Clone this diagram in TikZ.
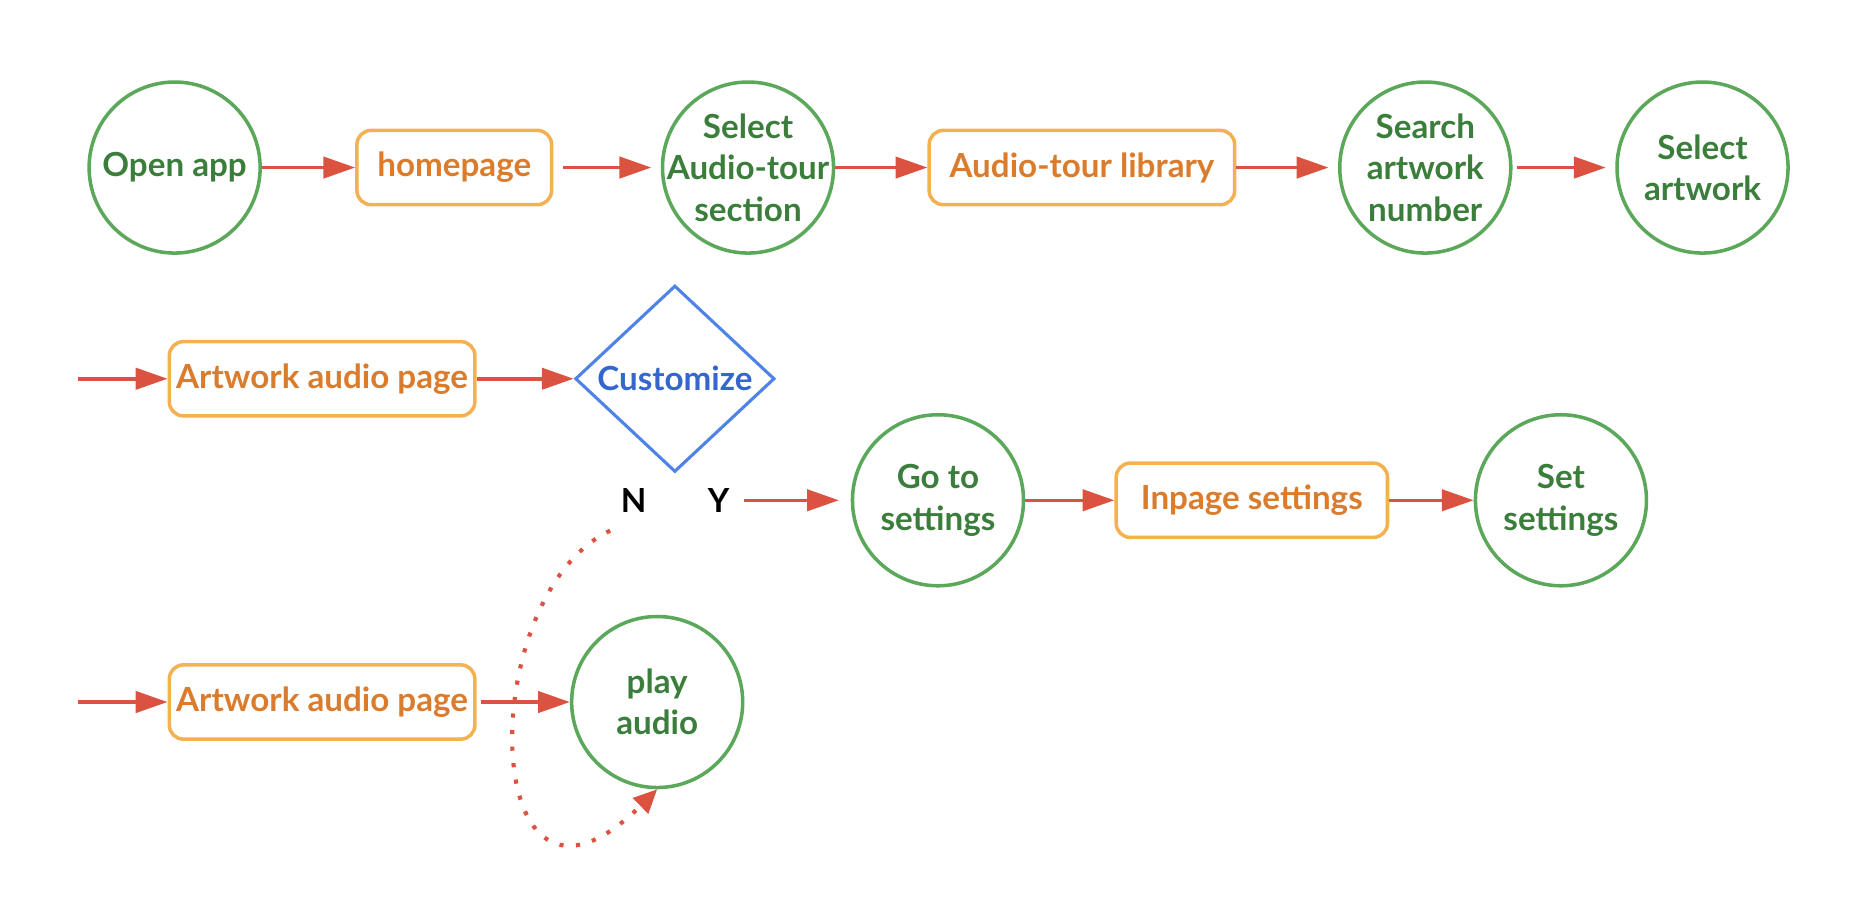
\documentclass[tikz,border=0pt]{standalone}
\usepackage{fontspec}
\setmainfont{Lato}
\usetikzlibrary{arrows.meta,positioning,shapes.geometric}
\definecolor{arrred}{HTML}{DB5240}
\definecolor{stepgreen}{HTML}{5BA85B}
\definecolor{txtgreen}{HTML}{3B7E3B}
\definecolor{boxorange}{HTML}{F4B152}
\definecolor{txtorange}{HTML}{DB7B2C}
\definecolor{decblue}{HTML}{4F83E8}
\definecolor{txtblue}{HTML}{3566D0}

\begin{document}
\begin{tikzpicture}[x=0.02cm,y=-0.02cm,
		every node/.style={font=\fontsize{16}{20}\selectfont\bfseries,align=center},
		act/.style={circle,draw=stepgreen,line width=1.7pt,text=txtgreen,minimum size=2.9cm,inner sep=0pt},
		page/.style={draw=boxorange,line width=1.7pt,text=txtorange,rounded corners=0.24cm,minimum height=1.26cm},
		choice/.style={diamond,draw=decblue,line width=1.5pt,text=txtblue,minimum width=3.38cm,minimum height=3.16cm,inner sep=0pt},
		arr/.style={arrred,line width=1.7pt,-{Triangle[length=0.54cm,width=0.36cm]}},
		dotarr/.style={arrred,line width=2pt,dash pattern=on 2pt off 6pt,-{Triangle[length=0.4cm,width=0.36cm]}}]

		\useasboundingbox (0,0) rectangle (1568,768);

		% first row
		\node[act] (open) at (148,142) {Open app};
		\node[page,minimum width=3.3cm] (home) at (385,142) {homepage};
		\node[act,inner sep=-9pt] (audio) at (634,142) {Select\\Audio-tour\\section};
		\node[page,minimum width=5.18cm] (library) at (917,142) {Audio-tour library};
		\node[act,inner sep=-4pt] (search) at (1208,142) {Search\\artwork\\number};
		\node[act] (artwork) at (1443,142) {Select\\artwork};

		\draw[arr] (open) -- (home);
		\draw[arr, shorten <=8*0.02cm, shorten >=8*0.02cm] (home) -- (audio);
		\draw[arr] (audio) -- (library);
		\draw[arr, shorten >=8*0.02cm] (library) -- (search);
		\draw[arr, shorten <=4*0.02cm, shorten >=8*0.02cm] (search) -- (artwork);

		% second row
		\coordinate (in1) at (66,321);
		\node[page,minimum width=5.18cm] (page1) at (273,321) {Artwork audio page};
		\node[choice] (custom) at (572,321) {Customize};
		\node[text=black] (N) at (537,424) {N};
		\node[text=black] (Y) at (609,424) {Y};
		\node[act] (goset) at (795,424) {Go to\\settings};
		\node[page,minimum width=4.6cm] (inpage) at (1061,424) {Inpage settings};
		\node[act] (setset) at (1323,424) {Set\\settings};

		\draw[arr] (in1) -- (page1);
		\draw[arr] (page1) -- (custom);
		\draw[arr, shorten <=6*0.02cm, shorten >=10*0.02cm] (Y) -- (goset);
		\draw[arr] (goset) -- (inpage);
		\draw[arr] (inpage) -- (setset);

		% third row
		\coordinate (in2) at (66,595);
		\node[page,minimum width=5.18cm] (page2) at (273,595) {Artwork audio page};
		\node[act] (play) at (557,595) {play\\audio};

		\draw[arr] (in2) -- (page2);
		\draw[arr, shorten <=4*0.02cm] (page2) -- (play);
		\draw[dotarr, shorten <=22*0.02cm] (N.south) .. controls (400,505) and (405,820) .. (play.south);

	\end{tikzpicture}
\end{document}
